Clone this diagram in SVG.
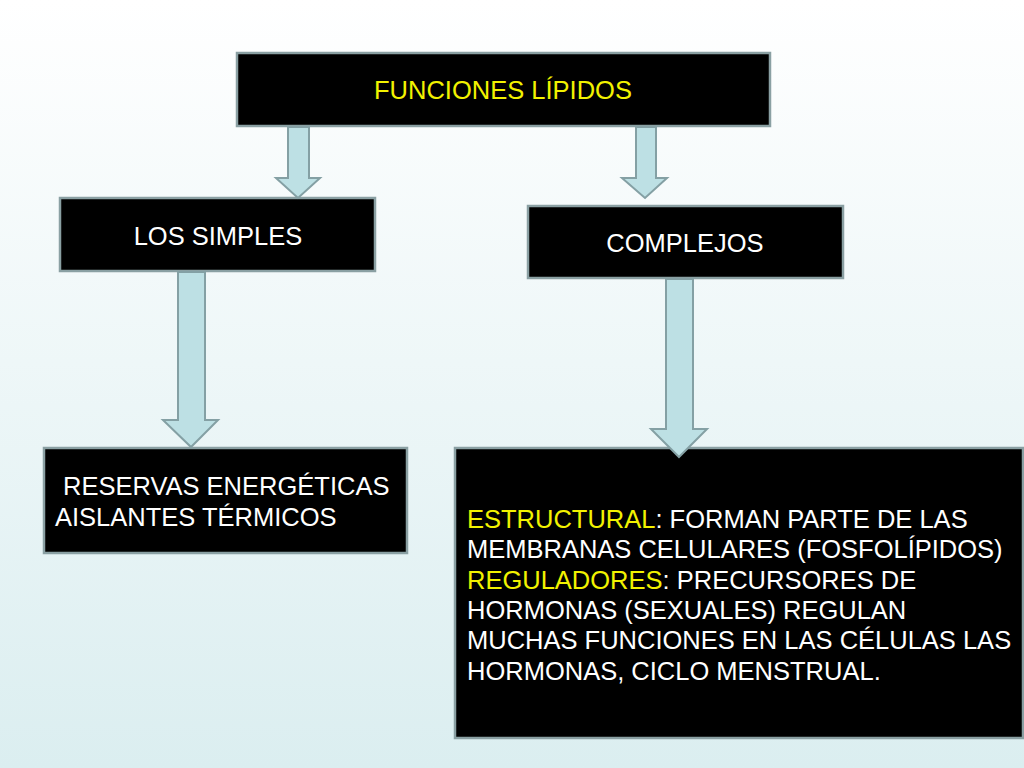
<svg xmlns="http://www.w3.org/2000/svg" width="1024" height="768" viewBox="0 0 1024 768">
<defs>
<linearGradient id="bg" x1="0" y1="0" x2="0" y2="1">
<stop offset="0" stop-color="#ffffff"/>
<stop offset="1" stop-color="#dbeef0"/>
</linearGradient>
<style>
.box{fill:#000;stroke:#8aa0a3;stroke-width:2.5}
.arrow{fill:#bde0e4;stroke:#84a0a4;stroke-width:2;stroke-linejoin:miter}
text{font-family:"Liberation Sans",Arial,sans-serif;font-size:25.5px;fill:#fff}
.y{fill:#f2f200}
</style>
</defs>
<rect width="1024" height="768" fill="url(#bg)"/>
<g id="node-funciones">
<rect class="box" x="237" y="53" width="533" height="73"/>
<text class="y" x="503" y="99" text-anchor="middle">FUNCIONES LÍPIDOS</text>
</g>
<g id="node-simples">
<rect class="box" x="60" y="198" width="315" height="73"/>
<text x="218" y="245" text-anchor="middle">LOS SIMPLES</text>
</g>
<g id="node-complejos">
<rect class="box" x="528" y="206" width="315" height="72"/>
<text x="685" y="252" text-anchor="middle">COMPLEJOS</text>
</g>
<g id="node-reservas">
<rect class="box" x="44" y="448" width="363" height="105"/>
<text x="63" y="495">RESERVAS ENERGÉTICAS</text>
<text x="55" y="526">AISLANTES TÉRMICOS</text>
</g>
<g id="node-funciones-complejos">
<rect class="box" x="455" y="448" width="568" height="290"/>
<text x="467" y="528"><tspan class="y">ESTRUCTURAL</tspan>: FORMAN PARTE DE LAS</text>
<text x="467" y="558">MEMBRANAS CELULARES (FOSFOLÍPIDOS)</text>
<text x="467" y="589"><tspan class="y">REGULADORES</tspan>: PRECURSORES DE</text>
<text x="467" y="619">HORMONAS (SEXUALES) REGULAN</text>
<text x="467" y="649">MUCHAS FUNCIONES EN LAS CÉLULAS LAS</text>
<text x="467" y="680">HORMONAS, CICLO MENSTRUAL.</text>
</g>
<g id="connectors">
<polygon class="arrow" points="288,127 309,127 309,178 320,178 298,198 276,178 288,178"/>
<polygon class="arrow" points="636,127 656,127 656,178 667,178 645,198 622,178 636,178"/>
<polygon class="arrow" points="178,272 205,272 205,420 218,420 191,447 163,420 178,420"/>
<polygon class="arrow" points="666,279 693,279 693,429 707,429 679,457 651,429 666,429"/>
</g>
</svg>
